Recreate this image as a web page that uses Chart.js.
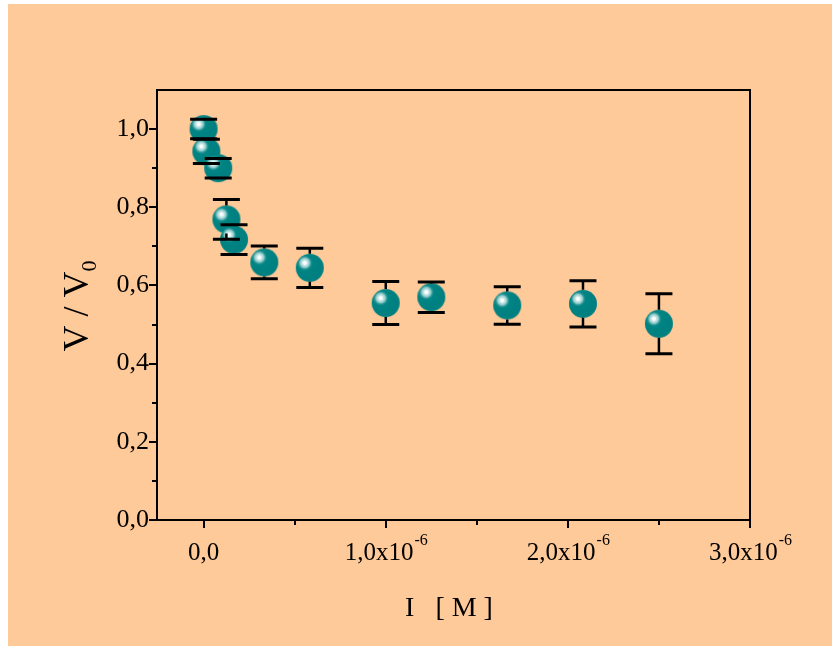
<!DOCTYPE html>
<html>
<head>
<meta charset="utf-8">
<script src="https://cdn.jsdelivr.net/npm/chart.js@4.4.0/dist/chart.umd.min.js"></script>
<style>
  html, body { margin: 0; padding: 0; background: #fff; }
  #wrap { position: absolute; left: 0; top: 0; width: 840px; height: 650px; }
</style>
</head>
<body>
<div id="wrap"><canvas id="chart" width="840" height="650"></canvas></div>
<script>
// inhibitor concentration [M] vs. relative rate V/V0, with errors
const concentrations = [0, 0.015e-6, 0.08e-6, 0.125e-6, 0.167e-6, 0.333e-6, 0.583e-6, 1.0e-6, 1.25e-6, 1.667e-6, 2.083e-6, 2.5e-6];
const ratios = [1.0, 0.943, 0.900, 0.769, 0.717, 0.659, 0.645, 0.555, 0.570, 0.549, 0.553, 0.502];
const errors = [0.025, 0.031, 0.025, 0.051, 0.038, 0.042, 0.050, 0.055, 0.039, 0.048, 0.059, 0.077];

const xMajorTicks = [0, 1e-6, 2e-6, 3e-6];
const xMinorTicks = [0.5e-6, 1.5e-6, 2.5e-6];
const xTickLabels = [["0,0", ""], ["1,0x10", "-6"], ["2,0x10", "-6"], ["3,0x10", "-6"]];
const yMinorTicks = [0.1, 0.3, 0.5, 0.7, 0.9];

const FONT = "'Liberation Serif', 'Times New Roman', serif";
const BALL_R = 14;

// shaded teal sphere used as the point marker
function makeBall(r) {
  const c = document.createElement("canvas");
  c.width = c.height = r * 2 + 2;
  const g = c.getContext("2d");
  const cx = r + 1, cy = r + 1;
  const grad = g.createRadialGradient(cx - 5, cy - 5, 0, cx - 5, cy - 5, r * 1.2);
  grad.addColorStop(0.0, "#ffffff");
  grad.addColorStop(0.08, "#ffffff");
  grad.addColorStop(0.16, "#c4e6e6");
  grad.addColorStop(0.28, "#8cc8c8");
  grad.addColorStop(0.36, "#2a9696");
  grad.addColorStop(0.46, "#008484");
  grad.addColorStop(1.0, "#008080");
  g.fillStyle = grad;
  g.beginPath();
  g.arc(cx, cy, r, 0, Math.PI * 2);
  g.fill();
  return c;
}

const points = concentrations.map((x, i) => ({ x: x, y: ratios[i] }));

const framePlugin = {
  id: "frame",
  beforeDraw(chart) {
    const ctx = chart.ctx;
    ctx.save();
    ctx.fillStyle = "#ffffff";
    ctx.fillRect(0, 0, chart.width, chart.height);
    ctx.fillStyle = "#ffca99";
    ctx.fillRect(8, 4, 824, 642);
    ctx.restore();
  },
  afterDatasetsDraw(chart) {
    // error bars start at the marker edge
    const ctx = chart.ctx;
    const xs = chart.scales.x, ys = chart.scales.y;
    ctx.save();
    ctx.strokeStyle = "#000";
    concentrations.forEach((c, i) => {
      const px = xs.getPixelForValue(c);
      const py = ys.getPixelForValue(ratios[i]);
      const top = ys.getPixelForValue(ratios[i] + errors[i]);
      const bot = ys.getPixelForValue(ratios[i] - errors[i]);
      ctx.lineWidth = 2.5;
      ctx.beginPath();
      if (top < py - BALL_R) { ctx.moveTo(px, top); ctx.lineTo(px, py - BALL_R); }
      if (bot > py + BALL_R) { ctx.moveTo(px, py + BALL_R); ctx.lineTo(px, bot); }
      ctx.stroke();
      ctx.lineWidth = 3;
      ctx.beginPath();
      ctx.moveTo(px - 13.5, top); ctx.lineTo(px + 13.5, top);
      ctx.moveTo(px - 13.5, bot); ctx.lineTo(px + 13.5, bot);
      ctx.stroke();
    });
    ctx.restore();
  },
  afterDraw(chart) {
    const ctx = chart.ctx;
    const a = chart.chartArea;
    const xs = chart.scales.x, ys = chart.scales.y;
    ctx.save();
    ctx.strokeStyle = "#000";
    ctx.lineWidth = 2;
    ctx.strokeRect(a.left, a.top, a.right - a.left, a.bottom - a.top);

    ctx.beginPath();
    xMajorTicks.forEach(v => {
      const p = Math.round(xs.getPixelForValue(v));
      ctx.moveTo(p, a.bottom); ctx.lineTo(p, a.bottom + 8);
    });
    xMinorTicks.forEach(v => {
      const p = Math.round(xs.getPixelForValue(v));
      ctx.moveTo(p, a.bottom); ctx.lineTo(p, a.bottom + 5);
    });
    ys.ticks.forEach(t => {
      const p = Math.round(ys.getPixelForValue(t.value));
      ctx.moveTo(a.left, p); ctx.lineTo(a.left - 8, p);
    });
    yMinorTicks.forEach(v => {
      const p = Math.round(ys.getPixelForValue(v));
      ctx.moveTo(a.left, p); ctx.lineTo(a.left - 5, p);
    });
    ctx.stroke();

    // x tick labels with exponent
    ctx.fillStyle = "#000";
    ctx.textBaseline = "alphabetic";
    xMajorTicks.forEach((v, i) => {
      const p = xs.getPixelForValue(v);
      const [base, sup] = xTickLabels[i];
      ctx.font = "25px " + FONT;
      const wb = ctx.measureText(base).width;
      ctx.font = "16px " + FONT;
      const ws = ctx.measureText(sup).width;
      const left = p - (sup ? (wb + ws) / 2 : wb / 2);
      ctx.font = "25px " + FONT;
      ctx.textAlign = "left";
      ctx.fillText(base, left, 560);
      if (sup) {
        ctx.font = "16px " + FONT;
        ctx.fillText(sup, left + wb + 1, 545);
      }
    });

    // axis titles
    ctx.font = "28px " + FONT;
    ctx.textAlign = "center";
    ctx.fillText("I   [ M ]", 449, 616);

    ctx.translate(88, 306);
    ctx.rotate(-Math.PI / 2);
    ctx.font = "36px " + FONT;
    const wv = ctx.measureText("V / V").width;
    ctx.font = "22px " + FONT;
    const w0 = ctx.measureText("0").width;
    ctx.textAlign = "left";
    ctx.font = "36px " + FONT;
    ctx.fillText("V / V", -(wv + w0) / 2, 0);
    ctx.font = "22px " + FONT;
    ctx.fillText("0", -(wv + w0) / 2 + wv, 8);
    ctx.restore();
  }
};

new Chart(document.getElementById("chart"), {
  type: "scatter",
  data: {
    datasets: [{
      data: points,
      pointStyle: makeBall(BALL_R),
      pointRadius: BALL_R,
      pointHoverRadius: BALL_R
    }]
  },
  options: {
    responsive: false,
    animation: false,
    layout: { padding: { top: 90, right: 90, left: 0, bottom: 0 } },
    plugins: { legend: { display: false }, tooltip: { enabled: false } },
    scales: {
      x: {
        type: "linear",
        min: -0.256e-6,
        max: 3.0e-6,
        grid: { display: false, drawTicks: false },
        border: { display: false },
        ticks: { display: false },
        afterFit(scale) { scale.height = 130; }
      },
      y: {
        min: 0,
        max: 1.1,
        grid: { display: false, drawTicks: false },
        border: { display: false },
        ticks: {
          stepSize: 0.2,
          includeBounds: false,
          padding: 8,
          color: "#000",
          font: { family: FONT, size: 26 },
          callback: v => v.toFixed(1).replace(".", ",")
        },
        afterFit(scale) { scale.width = 157; }
      }
    }
  },
  plugins: [framePlugin]
});
</script>
</body>
</html>
